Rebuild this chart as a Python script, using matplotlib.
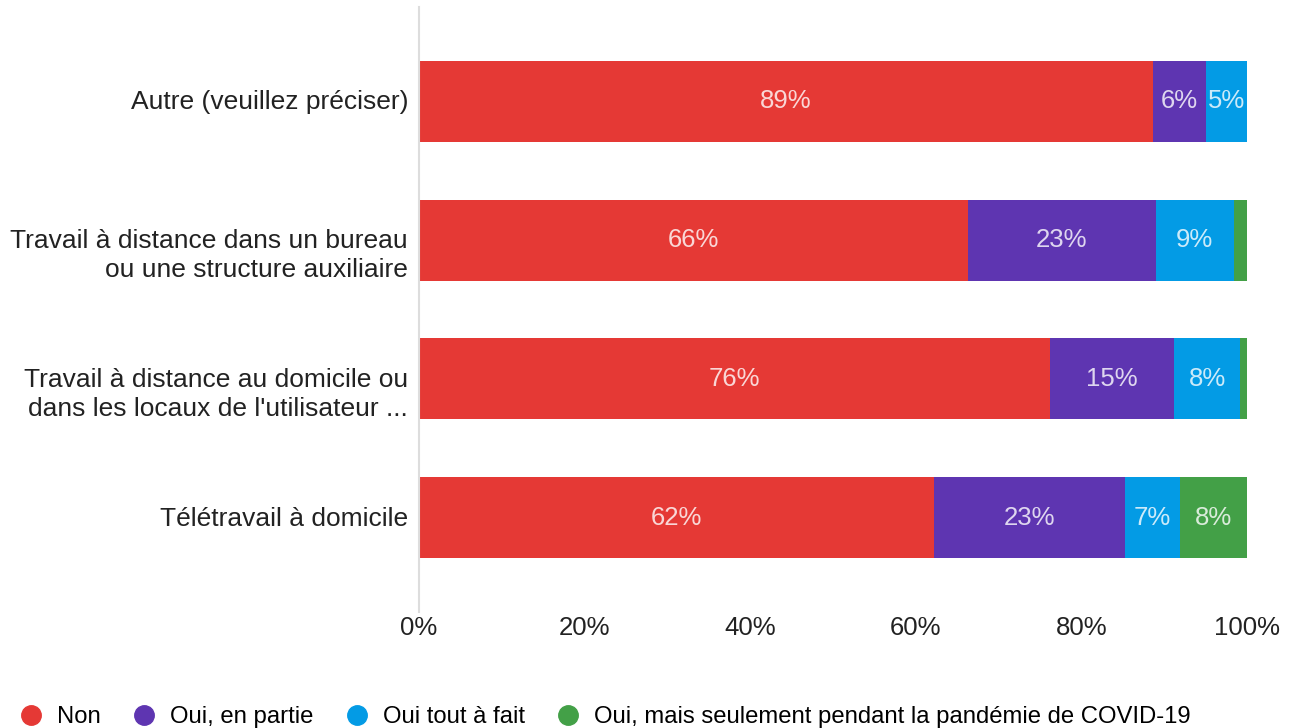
import matplotlib.pyplot as plt
import matplotlib.transforms as mtransforms
import numpy as np

plt.rcParams["font.family"] = ["Liberation Sans", "DejaVu Sans"]

categories = [
    "Autre (veuillez préciser)",
    "Travail à distance dans un bureau\nou une structure auxiliaire",
    "Travail à distance au domicile ou\ndans les locaux de l'utilisateur ...",
    "Télétravail à domicile",
]
series = ["Non", "Oui, en partie", "Oui tout à fait",
          "Oui, mais seulement pendant la pandémie de COVID-19"]
non = [88.6, 66.3, 76.2, 62.2]
partie = [6.4, 22.7, 15.0, 23.1]
tout = [5.0, 9.4, 8.0, 6.6]
covid = [0.0, 1.6, 0.8, 8.1]
colors = ["#E53935", "#5E35B1", "#039BE5", "#43A047"]

fig = plt.figure(figsize=(12.92, 7.28), dpi=100)
ax = fig.add_axes([419 / 1292, 1 - 612 / 728, 828 / 1292, 605 / 728])

y = np.arange(len(categories))
left = np.zeros(len(categories))
for name, vals, col in zip(series, [non, partie, tout, covid], colors):
    vals = np.array(vals)
    ax.barh(y, vals, left=left, height=0.583, color=col, label=name)
    for yi, l, v in zip(y, left, vals):
        if v >= 4:
            ax.text(l + v / 2, yi, f"{v:.0f}%", ha="center", va="center",
                    color="white", alpha=0.8, fontsize=18.5)
    left += vals

ax.set_ylim(3.68, -0.68)
ax.set_xlim(0, 100)
ax.set_yticks(y)
ax.set_yticklabels([])
ax.set_xticks(np.arange(0, 101, 20))
ax.set_xticklabels([f"{t}%" for t in range(0, 101, 20)], fontsize=18.5, color="#222222")
ax.tick_params(length=0, axis="both")
ax.tick_params(axis="x", pad=3)
for s in ["top", "right", "bottom"]:
    ax.spines[s].set_visible(False)
ax.spines["left"].set_color("#dddddd")
ax.spines["left"].set_linewidth(1.5)

# category labels: the first line sits on the bar centre, extra lines hang below
base = ax.get_yaxis_transform()
up = mtransforms.ScaledTranslation(-11 / 100, 11 / 100, fig.dpi_scale_trans)
left_only = mtransforms.ScaledTranslation(-11 / 100, -1 / 100, fig.dpi_scale_trans)
for yi, cat in zip(y, categories):
    if "\n" in cat:
        ax.text(0, yi, cat, ha="right", va="top", fontsize=19, color="#222222",
                linespacing=1.25, transform=base + up)
    else:
        ax.text(0, yi, cat, ha="right", va="center", fontsize=19, color="#222222",
                transform=base + left_only)

handles = [plt.Line2D([], [], marker="o", linestyle="", markersize=14,
                      markerfacecolor=c, markeredgecolor=c) for c in colors]
fig.legend(handles, series, loc="lower left", bbox_to_anchor=(-0.002, -0.03),
           ncol=4, frameon=False, fontsize=17.2, handletextpad=0.6,
           columnspacing=1.3, handlelength=1.0)

fig.savefig("out.png", dpi=100)
